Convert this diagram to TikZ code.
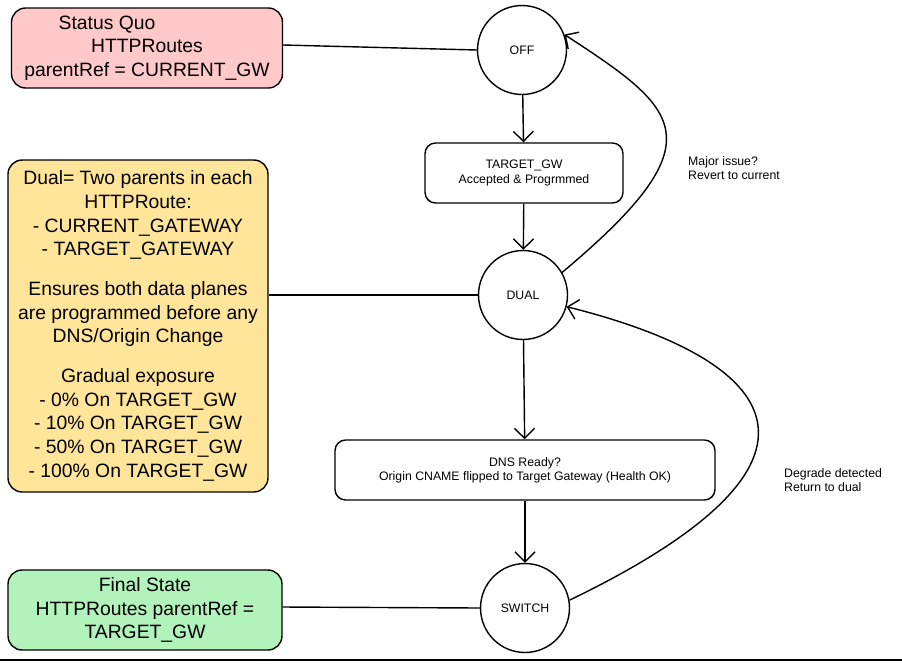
\documentclass[tikz,border=0pt]{standalone}
\usepackage{fontspec}
\setmainfont{Liberation Sans}
\usetikzlibrary{positioning,arrows.meta}
\definecolor{quored}{HTML}{FFC9C9}
\definecolor{dualyellow}{HTML}{FFE59A}
\definecolor{fingreen}{HTML}{B2F2BB}

\begin{document}
\begin{tikzpicture}[
  x=0.02cm,y=-0.02cm,
  note/.style={draw,rounded corners=8pt,line width=0.8pt,align=center,font=\fontsize{11}{13.5}\selectfont,inner sep=3pt},
  state/.style={draw,circle,line width=0.8pt,minimum size=1.78cm,font=\scriptsize},
  stepbox/.style={draw,rounded corners=6pt,line width=0.8pt,align=center,font=\scriptsize},
  flow/.style={-{Straight Barb[length=2mm]},line width=0.8pt},
  link/.style={line width=0.8pt},
  remark/.style={align=left,font=\scriptsize}
]
\useasboundingbox (0,0) rectangle (902,663);

% left notes
\node[note,fill=quored,minimum width=5.42cm,minimum height=1.6cm] (quo) at (147,48)
  {\hspace*{-1.6cm}Status Quo\\HTTPRoutes\\parentRef = CURRENT\_GW};
\node[note,fill=dualyellow,minimum width=5.2cm,minimum height=6.64cm] (dual) at (138,326)
  {Dual= Two parents in each\\HTTPRoute:\\- CURRENT\_GATEWAY\\- TARGET\_GATEWAY\\[9pt]
   Ensures both data planes\\are programmed before any\\DNS/Origin Change\\[9pt]
   Gradual exposure\\- 0\% On TARGET\_GW\\- 10\% On TARGET\_GW\\- 50\% On TARGET\_GW\\- 100\% On TARGET\_GW};
\node[note,fill=fingreen,minimum width=5.48cm,minimum height=1.6cm] (fin) at (145,610)
  {Final State\\HTTPRoutes parentRef =\\TARGET\_GW};

% states
\node[state] (off) at (522,50) {OFF};
\node[stepbox,minimum width=3.96cm,minimum height=1.2cm] (tgt) at (524,173) {TARGET\_GW\\Accepted \& Progrmmed};
\node[state] (dl) at (523,295) {DUAL};
\node[stepbox,minimum width=7.6cm,minimum height=1.2cm] (dns) at (525,470) {DNS Ready?\\Origin CNAME flipped to Target Gateway (Health OK)};
\node[state] (sw) at (525,608) {SWITCH};

% connectors
\draw[link] (quo.east |- 0,45) -- (off.west);
\draw[link] (dual.east |- 0,295) -- (dl.west);
\draw[link] (fin.east |- 0,607) -- (sw.west);
\draw[flow] (off) -- (tgt);
\draw[flow] (tgt) -- (dl);
\draw[flow] (dl) -- (dns);
\draw[flow] (dns) -- (sw);
\draw[flow] (dl.30) .. controls (720,140) and (680,110) .. (off.20);
\draw[flow] (sw.10) .. controls (860,460) and (780,360) .. (dl.-15);

% remarks
\node[remark,anchor=north west] (maj) at (682,150) {Major issue?\\Revert to current};
\node[remark,anchor=north west] (deg) at (778,462) {Degrade detected\\Return to dual};

\draw[line width=1pt] (0,660) -- (902,660);
\end{tikzpicture}
\end{document}
